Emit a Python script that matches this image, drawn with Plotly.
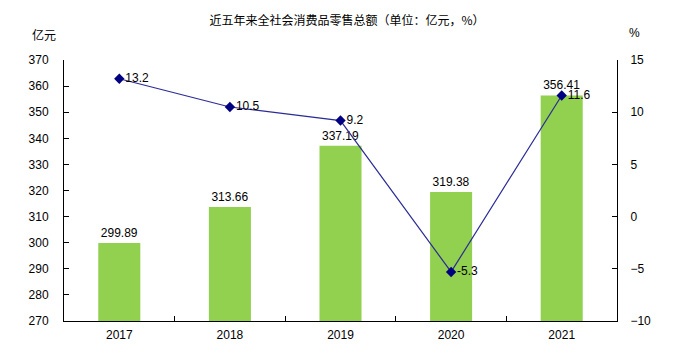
import plotly.graph_objects as go

years = ["2017", "2018", "2019", "2020", "2021"]
sales = [299.89, 313.66, 337.19, 319.38, 356.41]
growth = [13.2, 10.5, 9.2, -5.3, 11.6]
sales_text = ["299.89", "313.66", "337.19", "319.38", "356.41"]
growth_text = ["13.2", "10.5", "9.2", "-5.3", "11.6"]
base_value = 270

fnt = dict(family="Liberation Sans, Arial, sans-serif", size=12, color="#000000")

fig = go.Figure()
fig.add_trace(go.Bar(
    x=years, y=[s - base_value for s in sales], base=base_value, width=0.38,
    marker=dict(color="#92D050", line=dict(width=0)),
    text=sales_text, textposition="outside", textfont=fnt, cliponaxis=False,
    yaxis="y",
))
fig.add_trace(go.Scatter(
    x=years, y=growth, mode="lines+markers+text",
    line=dict(color="#2B2B96", width=1.2),
    marker=dict(symbol="diamond", size=8, color="#000080"),
    text=growth_text, textposition="middle right", textfont=fnt, cliponaxis=False,
    yaxis="y2",
))

# page body has an 8px default margin; compensate so the plot lands where the reference has it
fig.update_layout(
    width=674, height=359,
    margin=dict(l=56, r=65, t=52, b=46),
    paper_bgcolor="white", plot_bgcolor="white",
    showlegend=False,
    font=fnt,
    title=dict(text="近五年来全社会消费品零售总额（单位：亿元，%）",
               x=0.503, xanchor="center", y=0.965, yanchor="middle",
               font=dict(family="Noto Sans CJK SC", size=12, color="#000000")),
    xaxis=dict(type="category", showline=True, linecolor="#000", linewidth=1,
               ticks="inside", tickson="boundaries", ticklen=5, tickcolor="#000",
               showgrid=False, tickfont=fnt, automargin=False, ticklabelstandoff=3),
    yaxis=dict(range=[270, 370], tickvals=list(range(270, 371, 10)),
               showline=True, linecolor="#000", linewidth=1,
               ticks="inside", ticklen=5, tickcolor="#000", showgrid=False,
               zeroline=False, tickfont=fnt, ticklabelstandoff=12, automargin=False),
    yaxis2=dict(range=[-10, 15], tickvals=list(range(-10, 16, 5)), overlaying="y", side="right",
                showline=True, linecolor="#000", linewidth=1,
                ticks="inside", ticklen=5, tickcolor="#000", showgrid=False,
                zeroline=False, tickfont=fnt, ticklabelstandoff=10, automargin=False),
)

fig.add_annotation(text="亿元", xref="paper", yref="paper", x=-0.036, y=1.096,
                   xanchor="center", yanchor="middle", showarrow=False,
                   font=dict(family="Noto Sans CJK SC", size=12, color="#000"))
fig.add_annotation(text="%", xref="paper", yref="paper", x=1.031, y=1.103,
                   xanchor="center", yanchor="middle", showarrow=False,
                   font=fnt)

fig.write_html("out.html")
